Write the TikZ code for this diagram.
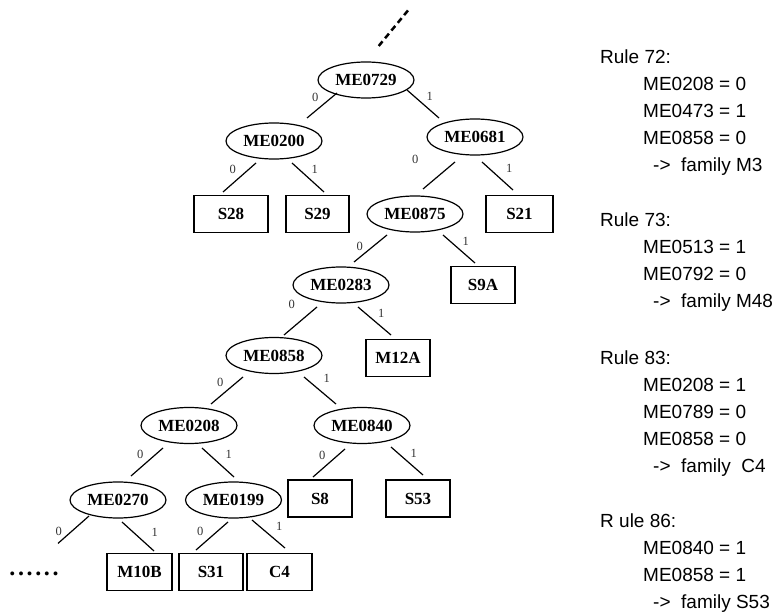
\documentclass[tikz,border=0pt]{standalone}
\usepackage{fontspec}
\setmainfont{Liberation Serif}
\newfontfamily\rulefont{Liberation Sans}
\usepackage{tikz}
\usetikzlibrary{
  shapes,
  shapes.geometric,
}
\tikzstyle{test} = [
ellipse,
draw,
line width=1.2pt,
minimum width=96pt,
minimum height=36pt,
inner sep=0pt,
font=\fontsize{17}{20}\selectfont\bfseries
]
\tikzstyle{leaf} = [
rectangle,
draw,
line width=1.2pt,
minimum width=64pt,
minimum height=37pt,
inner sep=0pt,
font=\fontsize{17}{20}\selectfont\bfseries
]
\tikzstyle{branch} = [draw, line width=1.2pt]
\tikzstyle{bit} = [inner sep=3pt, text=black!80, font=\fontsize{12.5}{14}\selectfont]
% anchored at the baseline of the last line
\tikzstyle{rule} = [anchor=base west, inner sep=0pt, align=left, font=\rulefont\fontsize{19}{27}\selectfont]

\begin{document}
\begin{tikzpicture}[x=1pt, y=-1pt]
  \useasboundingbox (0,0) rectangle (779,612);
  % Place nodes
  \node [test] (ME0729) at (366,80) {ME0729};
  \node [test] (ME0200) at (274,141) {ME0200};
  \node [test] (ME0681) at (475,137) {ME0681};
  \node [leaf, minimum width=74pt] (S28) at (231,214) {S28};
  \node [leaf, minimum width=63pt] (S29) at (317.5,214) {S29};
  \node [test] (ME0875) at (415,214) {ME0875};
  \node [leaf, minimum width=67pt] (S21) at (519.5,214) {S21};
  \node [test] (ME0283) at (341,285) {ME0283};
  \node [leaf] (S9A) at (483,285) {S9A};
  \node [test] (ME0858) at (274,355.5) {ME0858};
  \node [leaf] (M12A) at (398,358) {M12A};
  \node [test] (ME0208) at (189,425.5) {ME0208};
  \node [test] (ME0840) at (362,425.5) {ME0840};
  \node [test] (ME0270) at (118,500) {ME0270};
  \node [test] (ME0199) at (233.5,500) {ME0199};
  \node [leaf] (S8) at (320,498.5) {S8};
  \node [leaf] (S53) at (418,498.5) {S53};
  \node [leaf, minimum width=65pt] (M10B) at (139.5,572) {M10B};
  \node [leaf] (S31) at (211,572) {S31};
  \node [leaf, minimum width=65pt] (C4) at (279.5,572) {C4};
  \node [anchor=base, inner sep=0pt, font=\fontsize{24}{26}\selectfont\bfseries\addfontfeature{LetterSpace=11}] (more) at (34,575) {......};
  \coordinate (up) at (410,8);

  % Rules
  \node [rule] (r72) at (600,172) {Rule 72:\\\hspace*{43pt}ME0208 = 0\\\hspace*{43pt}ME0473 = 1\\\hspace*{43pt}ME0858 = 0\\\hspace*{53pt}->\ \ family M3};
  \node [rule] (r73) at (600,308) {Rule 73:\\\hspace*{43pt}ME0513 = 1\\\hspace*{43pt}ME0792 = 0\\\hspace*{53pt}->\ \ family M48};
  \node [rule] (r83) at (600,472) {Rule 83:\\\hspace*{43pt}ME0208 = 1\\\hspace*{43pt}ME0789 = 0\\\hspace*{43pt}ME0858 = 0\\\hspace*{53pt}->\ \ family\ \ C4};
  \node [rule] (r86) at (600,608) {R ule 86:\\\hspace*{43pt}ME0840 = 1\\\hspace*{43pt}ME0858 = 1\\\hspace*{53pt}->\ \ family S53};

  % Draw edges
  \path [branch, dashed, line width=2.5pt, dash pattern=on 6pt off 4pt, shorten <=20pt] (ME0729.north) -- (up);

  \path [branch] ([shift={(-29,13)}]ME0729.center) -- ([shift={(33,-23)}]ME0200.center) node [bit, midway, above left] {0};
  \path [branch] ([shift={(41,10)}]ME0729.center) -- ([shift={(-36,-19)}]ME0681.center) node [bit, midway, above right] {1};

  \path [branch] ([shift={(-18,22)}]ME0200.center) -- ([shift={(-8,-22)}]S28.center) node [bit, midway, above left] {0};
  \path [branch] ([shift={(18,22)}]ME0200.center) -- ([shift={(6.5,-22)}]S29.center) node [bit, midway, above right] {1};

  \path [branch] ([shift={(-20,25)}]ME0681.center) -- ([shift={(8,-25)}]ME0875.center) node [bit, midway, above left, xshift=-17pt, yshift=8pt] {0};
  \path [branch] ([shift={(7,25)}]ME0681.center) -- ([shift={(-6.5,-24)}]S21.center) node [bit, midway, above right, xshift=5pt] {1};

  \path [branch] ([shift={(-28,21)}]ME0875.center) -- ([shift={(13,-23)}]ME0283.center) node [bit, midway, above left, xshift=-4pt, yshift=-6pt] {0};
  \path [branch] ([shift={(28,21)}]ME0875.center) -- ([shift={(-8,-22)}]S9A.center) node [bit, midway, above right] {1};

  \path [branch] ([shift={(-24,22)}]ME0283.center) -- ([shift={(10,-20.5)}]ME0858.center) node [bit, midway, above left, xshift=-2pt, yshift=9pt] {0};
  \path [branch] ([shift={(17,22)}]ME0283.center) -- ([shift={(-7,-23)}]M12A.center) node [bit, midway, above right] {1};

  \path [branch] ([shift={(-31,21.5)}]ME0858.center) -- ([shift={(22,-21.5)}]ME0208.center) node [bit, midway, above left] {0};
  \path [branch] ([shift={(30,21.5)}]ME0858.center) -- ([shift={(-26,-21.5)}]ME0840.center) node [bit, midway, above right, yshift=4pt] {1};

  \path [branch] ([shift={(-26,22.5)}]ME0208.center) -- ([shift={(13,-24)}]ME0270.center) node [bit, midway, above left] {0};
  \path [branch] ([shift={(13,22.5)}]ME0208.center) -- ([shift={(0.5,-23)}]ME0199.center) node [bit, midway, above right, xshift=4pt] {1};

  \path [branch] ([shift={(-17,23.5)}]ME0840.center) -- ([shift={(-7,-21.5)}]S8.center) node [bit, midway, above left] {0};
  \path [branch] ([shift={(29,21.5)}]ME0840.center) -- ([shift={(5,-23.5)}]S53.center) node [bit, midway, above right] {1};

  \path [branch] ([shift={(-29,16)}]ME0270.center) -- ([shift={(24,-30)}]more.center) node [bit, midway, above left, xshift=-8pt, yshift=-10pt] {0};
  \path [branch] ([shift={(4,22)}]ME0270.center) -- ([shift={(14.5,-21)}]M10B.center) node [bit, midway, above right, xshift=10pt, yshift=-4pt] {1};

  \path [branch] ([shift={(-5.5,22)}]ME0199.center) -- ([shift={(-15,-22)}]S31.center) node [bit, midway, above left, xshift=-5pt, yshift=-3pt] {0};
  \path [branch] ([shift={(18.5,20)}]ME0199.center) -- ([shift={(5.5,-24)}]C4.center) node [bit, midway, above right, xshift=4pt] {1};

\end{tikzpicture}
\end{document}
